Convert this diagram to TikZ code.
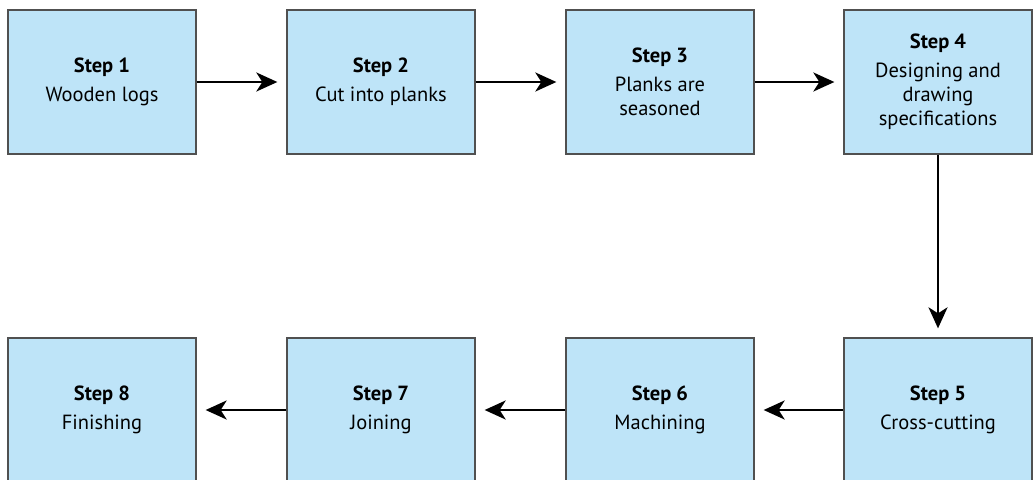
\documentclass[tikz,border=0pt]{standalone}
\usepackage{fontspec}
\setmainfont{PT Sans}
\usetikzlibrary{arrows.meta}
\definecolor{boxfill}{RGB}{190,228,248}
\definecolor{boxline}{RGB}{80,80,80}
\tikzset{
  stepbox/.style={draw=boxline, line width=1.3pt, fill=boxfill, rectangle,
    minimum width=188pt, minimum height=144pt, inner sep=0pt, align=center,
    font=\fontsize{20.5}{24}\selectfont},
  arr/.style={line width=2.4pt, -{Stealth[length=21pt,width=19pt,inset=6pt]}, shorten >=9pt}
}
\newcommand{\stp}[2]{\textbf{Step #1}\\[5pt]#2}
\begin{document}
\begin{tikzpicture}[x=1pt,y=-1pt]
\clip (0,0) rectangle (1035,479);
\fill[white] (0,0) rectangle (1035,479);
\node[stepbox] (b1) at (102,82) {\stp{1}{Wooden logs}};
\node[stepbox] (b2) at (381,82) {\stp{2}{Cut into planks}};
\node[stepbox] (b3) at (660,82) {\stp{3}{Planks are\\seasoned}};
\node[stepbox] (b4) at (938,82) {\stp{4}{Designing and\\drawing\\specifications}};
\node[stepbox] (b5) at (938,410) {\stp{5}{Cross-cutting}};
\node[stepbox] (b6) at (660,410) {\stp{6}{Machining}};
\node[stepbox] (b7) at (381,410) {\stp{7}{Joining}};
\node[stepbox] (b8) at (102,410) {\stp{8}{Finishing}};
\draw[arr] (b1.east) -- (b2.west);
\draw[arr] (b2.east) -- (b3.west);
\draw[arr] (b3.east) -- (b4.west);
\draw[arr] (b4.south) -- (b5.north);
\draw[arr] (b5.west) -- (b6.east);
\draw[arr] (b6.west) -- (b7.east);
\draw[arr] (b7.west) -- (b8.east);
\end{tikzpicture}
\end{document}
